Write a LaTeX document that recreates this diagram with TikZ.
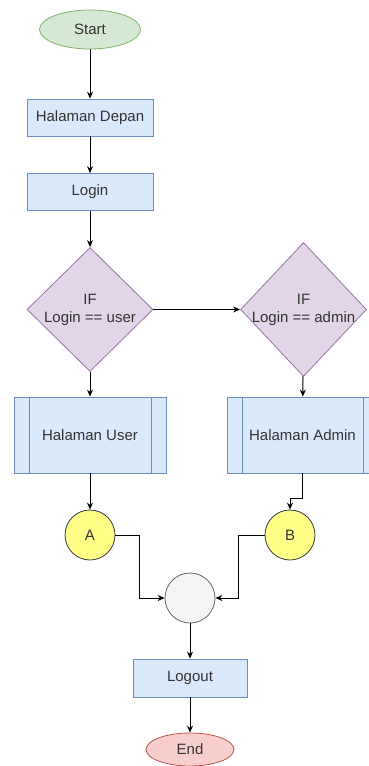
\documentclass[tikz,border=0pt]{standalone}
\usepackage{fontspec}
\setmainfont{Liberation Sans}
\usetikzlibrary{arrows.meta,positioning,shapes.geometric}
\definecolor{txt}{HTML}{333333}
\definecolor{startfill}{HTML}{D5E8D4}
\definecolor{startline}{HTML}{82B366}
\definecolor{procfill}{HTML}{DAE8FC}
\definecolor{procline}{HTML}{6C8EBF}
\definecolor{decfill}{HTML}{E1D5E7}
\definecolor{decline}{HTML}{9673A6}
\definecolor{connfill}{HTML}{FFFF88}
\definecolor{connline}{HTML}{36393D}
\definecolor{mergefill}{HTML}{F5F5F5}
\definecolor{mergeline}{HTML}{666666}
\definecolor{endfill}{HTML}{F8CECC}
\definecolor{endline}{HTML}{B85450}
\begin{document}
\begin{tikzpicture}[node distance=80pt,on grid,
    every node/.style={font=\fontsize{15}{18}\selectfont,text=txt},
    terminal/.style={ellipse,draw=startline,fill=startfill,line width=0.8pt,minimum width=101pt,minimum height=39pt},
    procbox/.style={rectangle,draw=procline,fill=procfill,line width=0.8pt,minimum width=126pt,minimum height=37pt},
    subproc/.style={procbox,minimum width=152pt,minimum height=76pt,
      path picture={\draw[procline,line width=0.8pt]
        ([xshift=15pt]path picture bounding box.north west) -- ([xshift=15pt]path picture bounding box.south west)
        ([xshift=-15pt]path picture bounding box.north east) -- ([xshift=-15pt]path picture bounding box.south east);}},
    decision/.style={diamond,draw=decline,fill=decfill,line width=0.8pt,inner sep=0pt,minimum width=126pt},
    connector/.style={circle,draw=connline,fill=connfill,line width=0.8pt,minimum size=50pt,inner sep=0pt},
    arrow/.style={-{Stealth[length=7pt,width=6pt]},line width=1pt,black}]
   \useasboundingbox (0,0) rectangle (368pt,-766pt);
   \node [terminal] (start) at (90pt,-29.5pt) {Start};
   \node [procbox] (depan) [below=88pt of start] {Halaman Depan};
   \node [procbox] (login) [below=74.5pt of depan] {Login};
   \node [decision,minimum height=124pt] (ifuser) [below=117.5pt of login]
     {\makebox[0pt]{\begin{tabular}{@{}c@{}}IF\\Login == user\end{tabular}}};
   \node [decision,minimum height=134pt] (ifadmin) [right=213.5pt of ifuser]
     {\makebox[0pt]{\begin{tabular}{@{}c@{}}IF\\Login == admin\end{tabular}}};
   \node [subproc] (user) [below=125.5pt of ifuser] {Halaman User};
   \node [subproc,minimum width=151pt] (admin) [right=212.5pt of user] {Halaman Admin};
   \node [connector] (A) [below=100pt of user] {A};
   \node [connector] (B) [right=200pt of A] {B};
   \node [connector,draw=mergeline,fill=mergefill] (merge) [below right=63pt and 100pt of A] {};
   \node [procbox,minimum width=114pt,minimum height=38pt] (logout) [below=80pt of merge] {Logout};
   \node [terminal,draw=endline,fill=endfill,minimum width=88pt,minimum height=33pt] (end) [below=71.5pt of logout] {End};
   \path[arrow]
    (start) edge (depan)
    (depan) edge (login)
    (login) edge (ifuser)
    (ifuser) edge (ifadmin)
    (ifuser) edge (user)
    (ifadmin) edge (admin)
    (user) edge (A)
    (merge) edge (logout)
    (logout) edge (end);
   \draw[arrow] (admin.south) -- ++(0,-25pt) -| (B.north);
   \draw[arrow] (A.east) -- ++(24pt,0) |- (merge.west);
   \draw[arrow] (B.west) -- ++(-26pt,0) |- (merge.east);
\end{tikzpicture}
\end{document}
